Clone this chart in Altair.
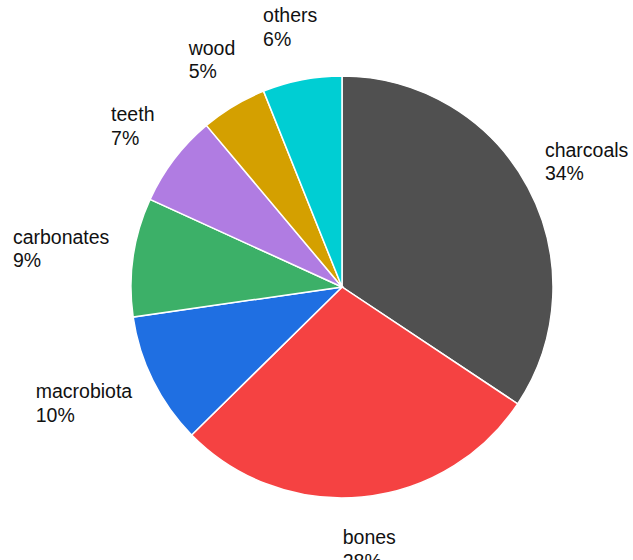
import altair as alt
import pandas as pd

categories = ["charcoals", "bones", "macrobiota", "carbonates", "teeth", "wood", "others"]
values = [34, 28, 10, 9, 7, 5, 6]
colors = ["#505050", "#F54242", "#1F6FE2", "#3CB068", "#B07CE2", "#D4A000", "#00CED3"]

df = pd.DataFrame({"category": categories, "value": values, "idx": list(range(len(categories)))})

CX, CY = 337, 282  # centre inside the padded view
R = 211
FS = 19.5
LH = 23.5

base = alt.Chart(df)

pie = base.mark_arc(outerRadius=R, stroke="white", strokeWidth=1.5).encode(
    theta=alt.Theta("value:Q", stack=True),
    color=alt.Color("category:N", scale=alt.Scale(domain=categories, range=colors), legend=None),
    order=alt.Order("idx:Q"),
    x=alt.value(CX),
    y=alt.value(CY),
)

labels = base.transform_window(
    cum="sum(value)", sort=[alt.SortField("idx")], frame=[None, 0]
).transform_joinaggregate(
    total="sum(value)"
).transform_calculate(
    mid="(datum.cum - datum.value/2) / datum.total * 2 * PI",
    w="length(datum.category) * 9.6 + 4 * (length(datum.category) - length(replace(datum.category, regexp('[wm]', 'g'), '')))",
).transform_calculate(
    cx="sin(datum.mid) * (236 + datum.w/2)",
    cy="-cos(datum.mid) * 264",
).transform_calculate(
    ax="datum.cx - datum.w/2",
    ay="datum.cy - 11.75",
).transform_calculate(
    rr="sqrt(datum.ax*datum.ax + datum.ay*datum.ay)",
    tt="atan2(datum.ax, -datum.ay)",
    label="datum.category + '\\n' + datum.value + '%'",
).mark_text(
    align="left", baseline="middle", lineBreak="\n", fontSize=FS, lineHeight=LH,
    font="Liberation Sans", color="#111111",
).encode(
    theta=alt.Theta("tt:Q", scale=None, stack=None),
    radius=alt.Radius("rr:Q", scale=None),
    text="label:N",
    x=alt.value(CX),
    y=alt.value(CY),
)

chart = alt.layer(pie, labels).properties(
    width=623, height=550, autosize=alt.AutoSizeParams(type="none"), padding=5, background="white"
).configure_view(stroke=None)

chart.save("out.html", embed_options={"renderer": "svg", "actions": False})
